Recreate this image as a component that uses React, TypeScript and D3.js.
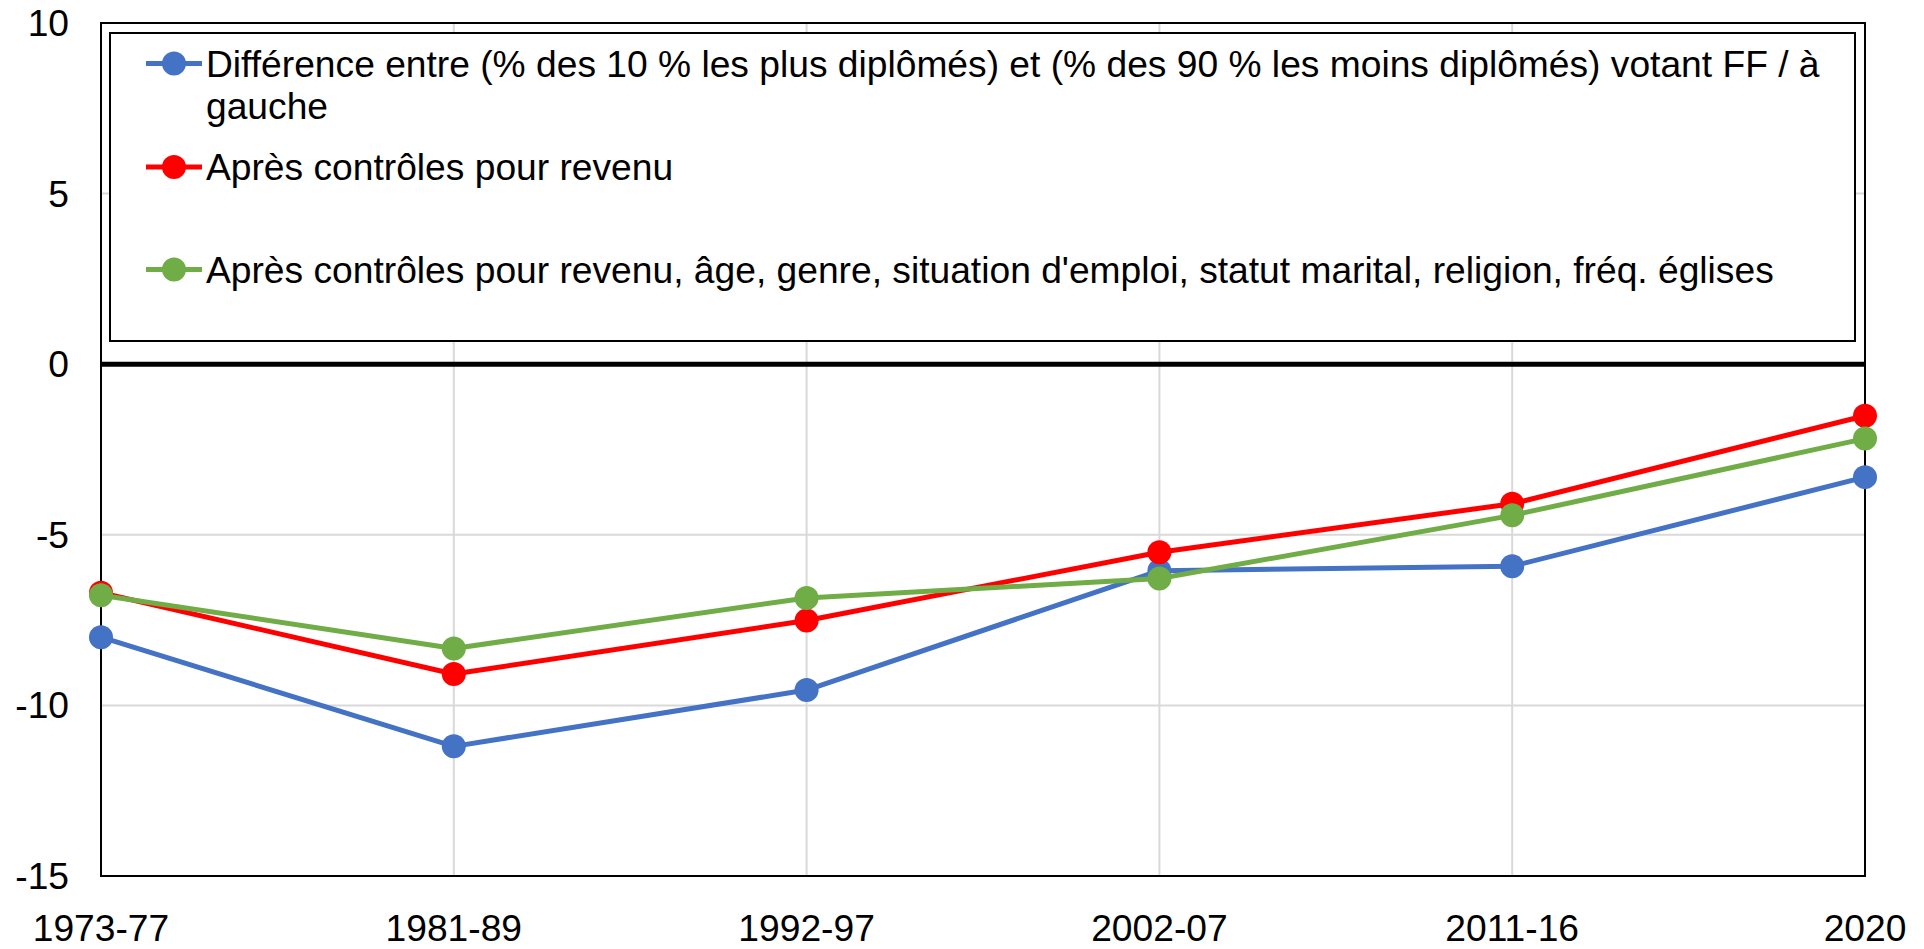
import React from "react";
import * as d3 from "d3";

const categories = ["1973-77", "1981-89", "1992-97", "2002-07", "2011-16", "2020"];
const blueValues = [-8.0, -11.2, -9.55, -6.05, -5.92, -3.31];
const redValues = [-6.7, -9.08, -7.51, -5.51, -4.09, -1.51];
const greenValues = [-6.77, -8.33, -6.85, -6.28, -4.43, -2.18];
const yTicks = [10, 5, 0, -5, -10, -15];
const legendLabels = [
  ["Différence entre (% des 10 % les plus diplômés) et (% des 90 % les moins diplômés) votant FF / à", "gauche"],
  ["Après contrôles pour revenu"],
  ["Après contrôles pour revenu, âge, genre, situation d'emploi, statut marital, religion, fréq. églises"],
];
const seriesColors = ["#4472C4", "#FF0000", "#70AD47"];

const W = 1924;
const H = 949;
const FONT = "'Liberation Sans', Arial, sans-serif";
const FS = 37.2;

export default function App() {
  const left = 101;
  const right = 1865;
  const top = 23;
  const bottom = 876;

  const x = d3.scalePoint<string>().domain(categories).range([left, right]);
  const y = d3.scaleLinear().domain([-15, 10]).range([bottom, top]);
  const line = d3
    .line<number>()
    .x((_, i) => x(categories[i]) as number)
    .y((d) => y(d));

  const series = [blueValues, redValues, greenValues];

  const legendX = 110;
  const legendY = 33;
  const legendW = 1855 - 110;
  const legendH = 341 - 33;
  const markerY = [63.5, 167, 269.5];

  return (
    <svg
      width={W}
      height={H}
      style={{ position: "absolute", left: 0, top: 0, background: "#fff" }}
      fontFamily={FONT}
    >
      <rect x={0} y={0} width={W} height={H} fill="#fff" />
      {yTicks.map((t) => (
        <line key={"h" + t} x1={left} x2={right} y1={y(t)} y2={y(t)} stroke="#d9d9d9" strokeWidth={2} />
      ))}
      {categories.map((c) => (
        <line key={"v" + c} x1={x(c)} x2={x(c)} y1={top} y2={bottom} stroke="#d9d9d9" strokeWidth={2} />
      ))}
      <rect x={left} y={top} width={right - left} height={bottom - top} fill="none" stroke="#000" strokeWidth={2} />
      <line x1={left} x2={right} y1={y(0)} y2={y(0)} stroke="#000" strokeWidth={5} />
      {yTicks.map((t) => (
        <text key={"yl" + t} x={69} y={y(t)} dy="0.35em" textAnchor="end" fontSize={FS} fill="#000">
          {t}
        </text>
      ))}
      {categories.map((c) => (
        <text key={"xl" + c} x={x(c)} y={941} textAnchor="middle" fontSize={FS} fill="#000">
          {c}
        </text>
      ))}
      {series.map((vals, si) => (
        <g key={"s" + si}>
          <path d={line(vals) || ""} fill="none" stroke={seriesColors[si]} strokeWidth={5} strokeLinejoin="round" />
          {vals.map((v, i) => (
            <circle key={i} cx={x(categories[i])} cy={y(v)} r={12} fill={seriesColors[si]} />
          ))}
        </g>
      ))}
      <rect x={legendX} y={legendY} width={legendW} height={legendH} fill="#fff" stroke="#000" strokeWidth={2} />
      {legendLabels.map((lines, li) => (
        <g key={"lg" + li}>
          <line x1={146} x2={202} y1={markerY[li]} y2={markerY[li]} stroke={seriesColors[li]} strokeWidth={5} />
          <circle cx={174} cy={markerY[li]} r={12} fill={seriesColors[li]} />
          <text x={206} y={markerY[li] + 13} fontSize={FS} fill="#000">
            {lines.map((t, k) => (
              <tspan key={k} x={206} dy={k === 0 ? 0 : 42}>
                {t}
              </tspan>
            ))}
          </text>
        </g>
      ))}
    </svg>
  );
}
